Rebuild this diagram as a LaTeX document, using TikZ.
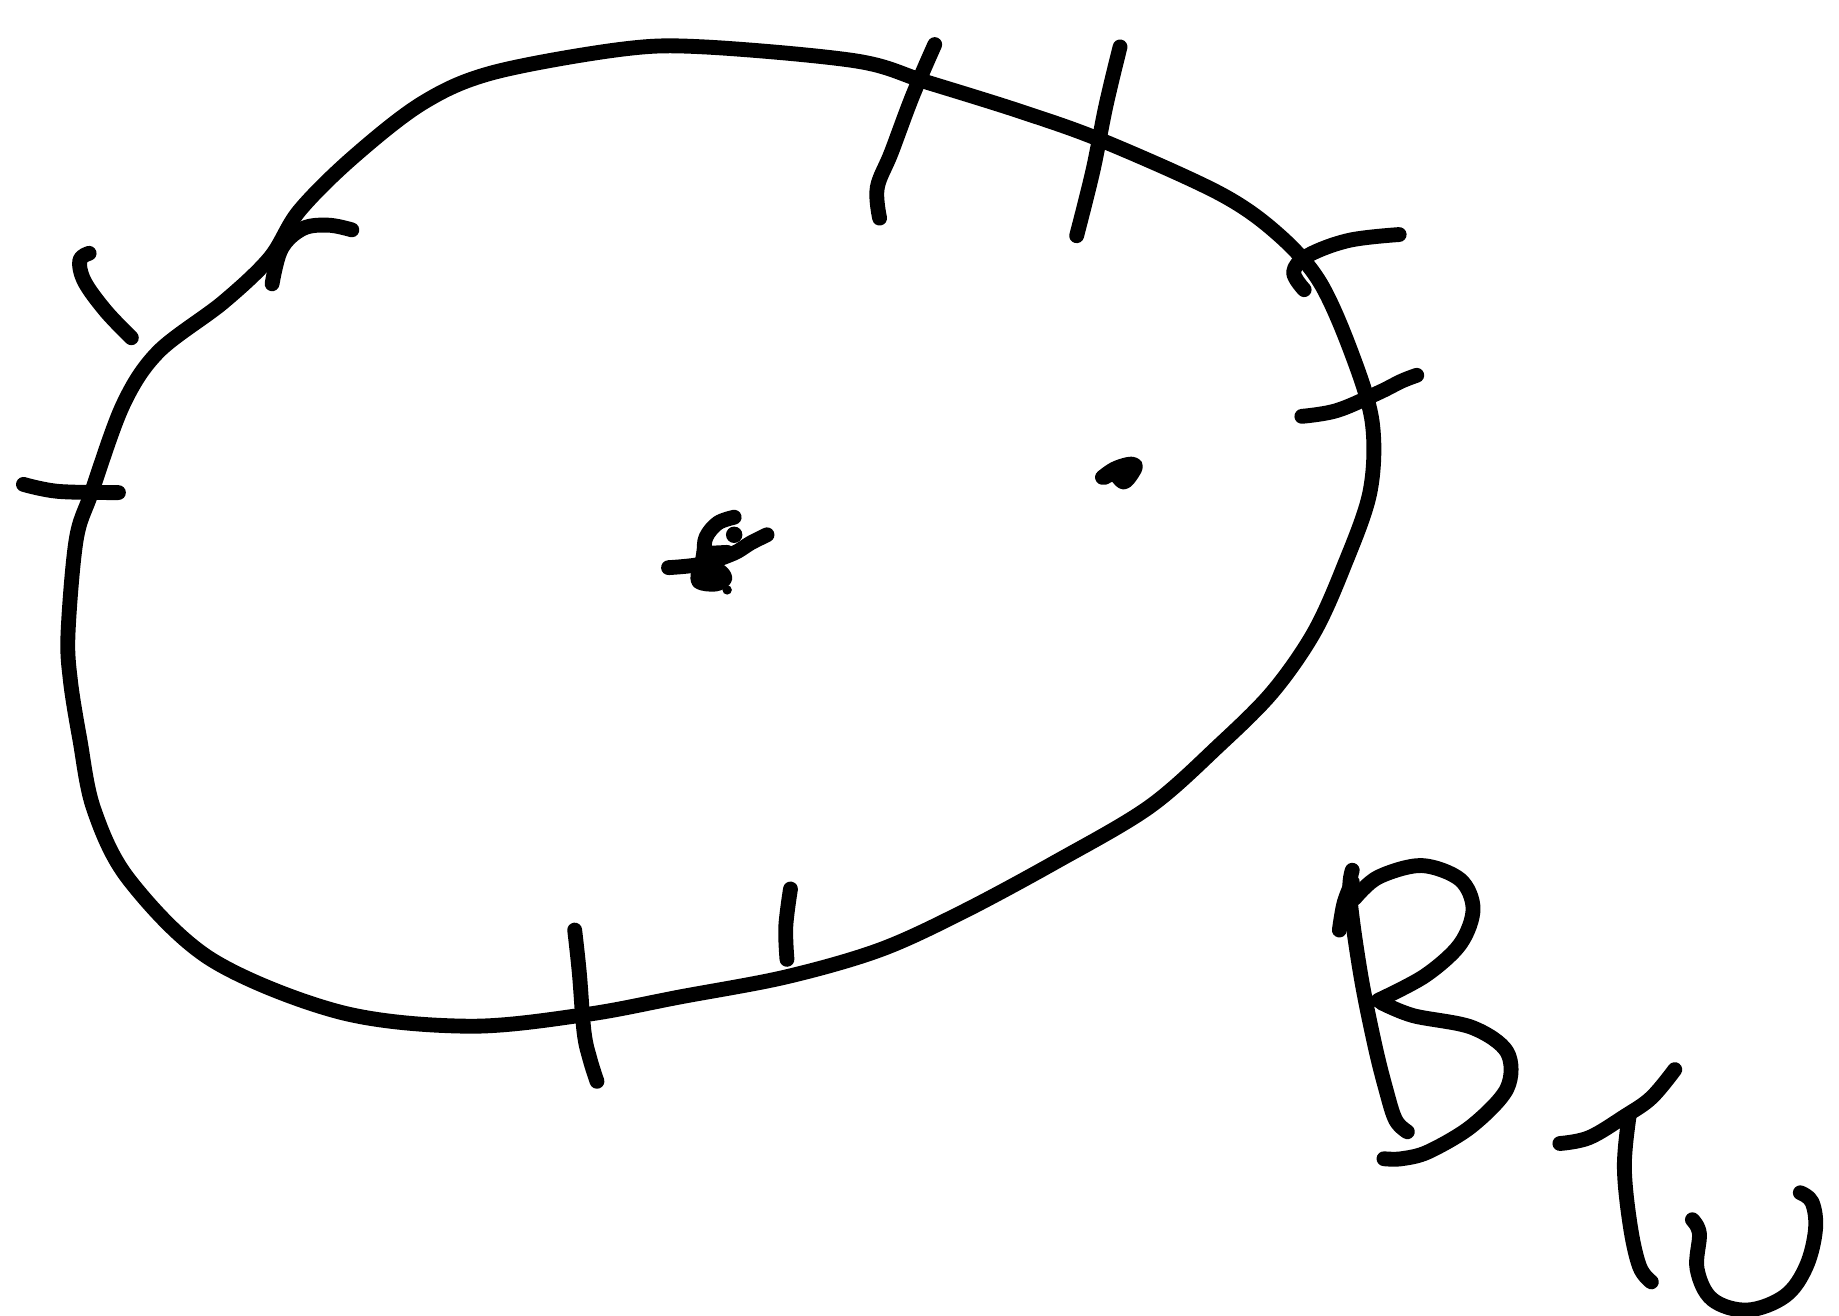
\documentclass[tikz,border=0pt]{standalone}
\begin{document}
\begin{tikzpicture}[x=0.01cm,y=-0.01cm,
  ink/.style={line width=3.6pt,line cap=round,line join=round,black}]
\useasboundingbox (0,0) rectangle (1568,1122);
% main loop
\draw[ink] plot[smooth cycle,tension=0.55] coordinates {
 (255,180) (300,135) (360,88) (420,62) (530,42) (600,40) (730,52) (790,70)
 (870,95) (940,120) (1040,165) (1090,200) (1125,240) (1152,300) (1170,360)
 (1168,420) (1145,485) (1120,540) (1085,590) (1040,635) (980,688) (900,735)
 (820,778) (750,810) (670,833) (580,850) (500,865) (400,875) (290,863)
 (180,818) (110,750) (80,690) (68,630) (60,580) (58,540) (65,460) (78,420)
 (105,345) (135,300) (190,258) (230,220)};
% ticks
\draw[ink] plot[smooth,tension=0.6] coordinates {(232,242) (240,212) (258,195) (280,192) (300,196)};
\draw[ink] plot[smooth,tension=0.6] coordinates {(76,216) (68,222) (72,240) (90,265) (112,288)};
\draw[ink] plot[smooth,tension=0.6] coordinates {(20,413) (50,419) (101,420)};
\draw[ink] plot[smooth,tension=0.6] coordinates {(797,38) (778,82) (760,130) (748,160) (750,186)};
\draw[ink] plot[smooth,tension=0.6] coordinates {(955,40) (943,90) (932,145) (918,201)};
\draw[ink] plot[smooth,tension=0.6] coordinates {(1112,247) (1103,232) (1115,218) (1150,205) (1193,200)};
\draw[ink] plot[smooth,tension=0.6] coordinates {(1110,355) (1140,350) (1175,335) (1195,325) (1208,320)};
\draw[ink] plot[smooth,tension=0.6] coordinates {(490,793) (494,830) (498,880) (503,903) (509,922)};
\draw[ink] plot[smooth,tension=0.6] coordinates {(674,758) (670,790) (671,818)};
% dot
\draw[ink] plot[smooth,tension=0.6] coordinates {(940,407) (950,400) (962,396) (968,397) (965,404) (958,411) (950,404) (942,407)};
\fill (960,402) circle (7);
% centre scribble
\draw[ink] plot[smooth,tension=0.6] coordinates {(570,484) (598,481) (625,472) (640,463) (654,456)};
\draw[ink] plot[smooth,tension=0.6] coordinates {(626,441) (612,446) (602,458) (600,472) (597,487)};
\draw[ink] plot[smooth,tension=0.6] coordinates {(596,487) (596,496) (610,498) (618,493) (612,486) (602,486)};
\draw[ink] (620,471) -- (600,472);
\fill (626,456) circle (7);
\fill (620,503) circle (4);
% B
\draw[ink] plot[smooth,tension=0.6] coordinates {(1153,742) (1151,765) (1160,830) (1172,890) (1182,930) (1190,955) (1200,965)};
\draw[ink] plot[smooth,tension=0.6] coordinates {(1142,793) (1146,770) (1153,752)};
\draw[ink] plot[smooth,tension=0.55] coordinates {(1155,766) (1175,748) (1212,738) (1245,750) (1256,775) (1245,805) (1215,832) (1175,853)};
\draw[ink] plot[smooth,tension=0.55] coordinates {(1178,855) (1205,866) (1255,876) (1285,897) (1285,928) (1255,960) (1218,982) (1195,988) (1180,988)};
% T
\draw[ink] plot[smooth,tension=0.6] coordinates {(1330,975) (1355,970) (1385,952) (1408,936) (1428,912)};
\draw[ink] plot[smooth,tension=0.6] coordinates {(1389,952) (1385,995) (1390,1045) (1398,1080) (1408,1093)};
% U
\draw[ink] plot[smooth,tension=0.6] coordinates {(1443,1040) (1449,1052) (1447,1082) (1460,1108) (1490,1117) (1522,1105) (1540,1080) (1548,1048) (1545,1025) (1535,1017)};
\end{tikzpicture}
\end{document}
